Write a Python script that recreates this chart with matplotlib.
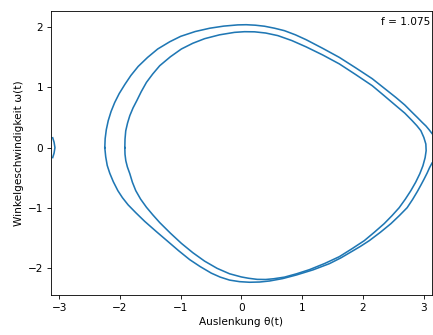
import numpy as np
import matplotlib
matplotlib.use("Agg")
import matplotlib.pyplot as plt

# Values: outer loop (theta before wrapping, omega)
outer_theta = [-2.250, -2.244, -2.225, -2.193, -2.147, -2.087, -2.012, -1.920, -1.820, -1.700,
               -1.545, -1.378, -1.180, -1.000, -0.760, -0.520, -0.290, -0.060, 0.080, 0.230,
               0.380, 0.545, 0.709, 0.890, 1.066, 1.340, 1.613, 1.885, 2.155, 2.350,
               2.545, 2.690, 2.813, 2.900, 2.978, 3.040, 3.090, 3.140, 3.175, 3.198,
               3.212, 3.198, 3.175, 3.140, 3.100, 3.060, 3.010, 2.960, 2.900, 2.820,
               2.730, 2.600, 2.463, 2.290, 2.106, 1.960, 1.826, 1.640, 1.449, 1.180,
               0.906, 0.680, 0.463, 0.300, 0.134, -0.030, -0.195, -0.350, -0.495, -0.680,
               -0.852, -1.030, -1.209, -1.400, -1.592, -1.740, -1.866, -1.960, -2.035, -2.110,
               -2.168, -2.210, -2.235, -2.250]
outer_omega = [0.000, 0.150, 0.300, 0.450, 0.600, 0.750, 0.900, 1.050, 1.200, 1.350,
               1.500, 1.640, 1.760, 1.850, 1.930, 1.985, 2.020, 2.040, 2.043, 2.035,
               2.018, 1.985, 1.944, 1.875, 1.794, 1.650, 1.500, 1.325, 1.146, 0.990,
               0.834, 0.710, 0.586, 0.500, 0.420, 0.360, 0.300, 0.235, 0.165, 0.090,
               0.000, -0.090, -0.165, -0.255, -0.330, -0.420, -0.520, -0.615, -0.725, -0.860,
               -0.997, -1.130, -1.262, -1.405, -1.545, -1.640, -1.720, -1.830, -1.927, -2.030,
               -2.115, -2.175, -2.215, -2.232, -2.236, -2.226, -2.200, -2.150, -2.085, -1.975,
               -1.860, -1.715, -1.560, -1.395, -1.225, -1.080, -0.950, -0.830, -0.714, -0.565,
               -0.425, -0.295, -0.150, 0.000]

# inner loop
inner_theta = [-1.920, -1.917, -1.905, -1.875, -1.838, -1.785, -1.723, -1.650, -1.564, -1.460,
               -1.345, -1.170, -0.988, -0.800, -0.606, -0.360, -0.113, 0.050, 0.216, 0.400,
               0.600, 0.830, 1.066, 1.340, 1.613, 1.885, 2.155, 2.350, 2.545, 2.690,
               2.813, 2.890, 2.956, 3.005, 3.038, 3.043, 3.026, 2.990, 2.939, 2.870,
               2.791, 2.700, 2.599, 2.480, 2.352, 2.190, 2.024, 1.820, 1.613, 1.370,
               1.120, 0.910, 0.709, 0.530, 0.400, 0.260, 0.120, 0.000, -0.195, -0.400,
               -0.606, -0.800, -0.988, -1.170, -1.345, -1.460, -1.564, -1.660, -1.740, -1.795,
               -1.838, -1.878, -1.904, -1.917, -1.920]
inner_omega = [0.000, 0.140, 0.280, 0.410, 0.532, 0.660, 0.781, 0.930, 1.085, 1.225,
               1.362, 1.510, 1.640, 1.735, 1.811, 1.875, 1.916, 1.927, 1.925, 1.905,
               1.862, 1.780, 1.675, 1.540, 1.392, 1.213, 1.030, 0.865, 0.698, 0.575,
               0.449, 0.365, 0.282, 0.170, 0.061, -0.050, -0.166, -0.300, -0.432, -0.575,
               -0.714, -0.855, -0.997, -1.130, -1.262, -1.405, -1.545, -1.680, -1.811, -1.925,
               -2.027, -2.095, -2.151, -2.178, -2.190, -2.188, -2.170, -2.148, -2.095, -2.005,
               -1.885, -1.745, -1.590, -1.420, -1.245, -1.115, -0.990, -0.855, -0.714, -0.575,
               -0.432, -0.320, -0.216, -0.110, 0.000]

f_value = 1.075


def wrap(theta, omega):
    th = (np.asarray(theta) + np.pi) % (2 * np.pi) - np.pi
    om = np.asarray(omega, dtype=float)
    xs, ys = [th[0]], [om[0]]
    for i in range(1, len(th)):
        if abs(th[i] - th[i - 1]) > np.pi:
            xs.append(np.nan)
            ys.append(np.nan)
        xs.append(th[i])
        ys.append(om[i])
    return np.array(xs), np.array(ys)


DPI = 76
fig = plt.figure(figsize=(433 / DPI, 335 / DPI), dpi=DPI)
ax = fig.add_axes([0.117, 0.119, 0.881, 0.848])

for th, om in [(outer_theta, outer_omega), (inner_theta, inner_omega)]:
    x, y = wrap(th, om)
    ax.plot(x, y, color="#1f77b4", lw=1.5)

ax.set_xlim(-np.pi, np.pi)
ax.set_ylim(-2.45, 2.27)
ax.set_xticks([-3, -2, -1, 0, 1, 2, 3])
ax.set_yticks([-2, -1, 0, 1, 2])
ax.set_xlabel("Auslenkung θ(t)")
ax.set_ylabel("Winkelgeschwindigkeit ω(t)")
ax.text(0.995, 0.962, f"f = {f_value}", transform=ax.transAxes, ha="right", va="center")

fig.savefig("out.png", dpi=DPI)
